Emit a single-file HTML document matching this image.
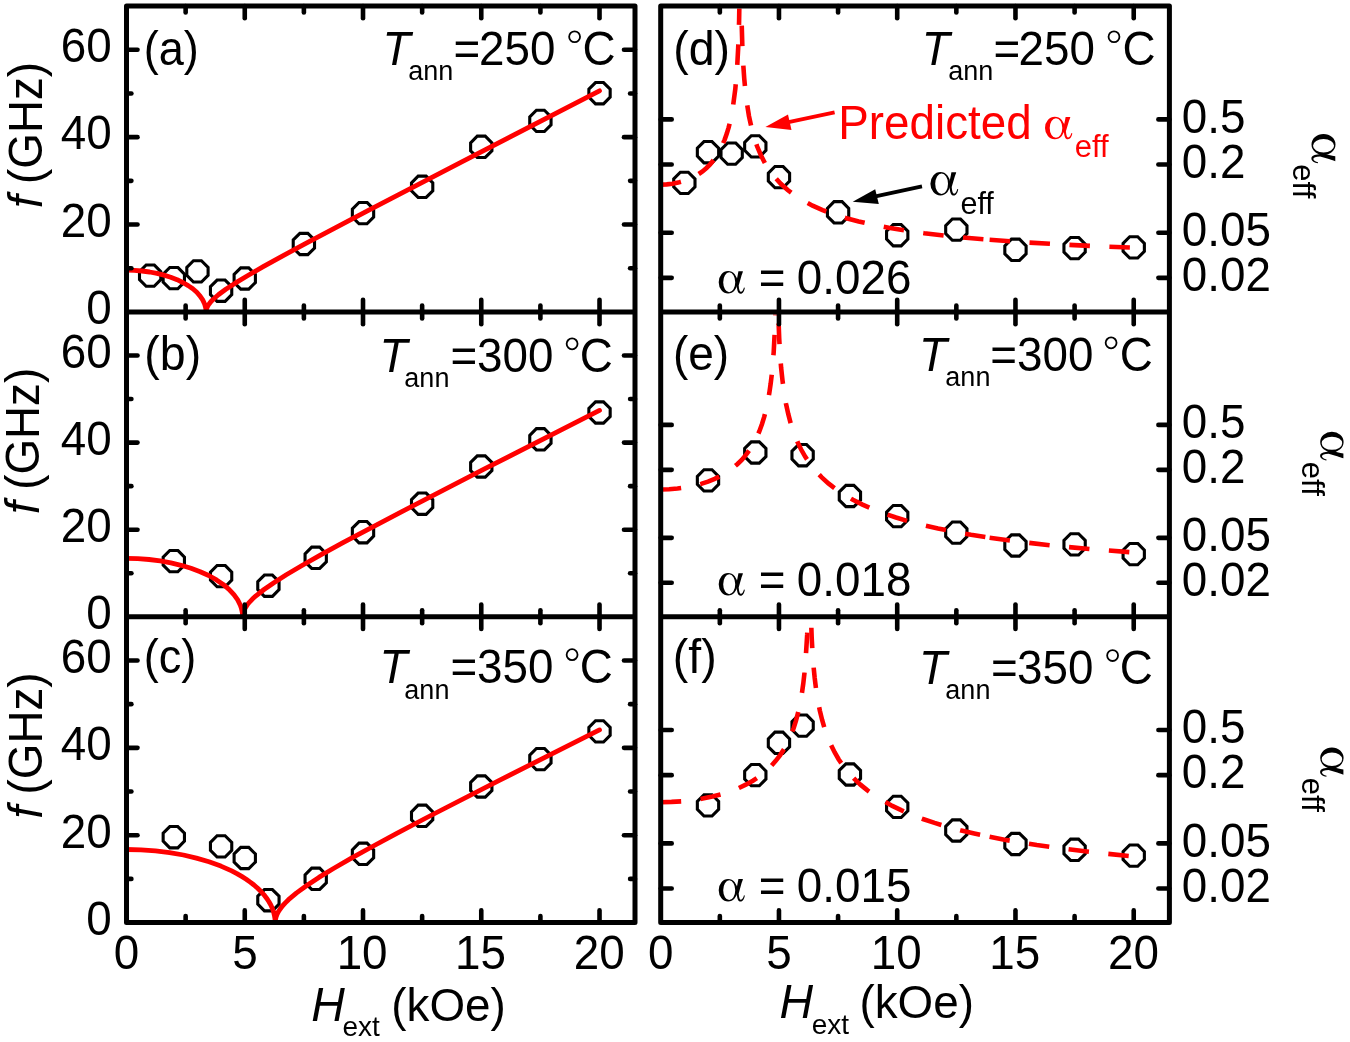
<!DOCTYPE html>
<html><head><meta charset="utf-8"><style>
html,body{margin:0;padding:0;background:#fff;}
svg{display:block;will-change:transform;}
</style></head><body>
<svg width="1350" height="1042" viewBox="0 0 1350 1042">
<rect width="1350" height="1042" fill="#fff"/>
<defs>
<g id="alp"><path fill-rule="evenodd" d="M0,11.85 A10.0,11.75 0 1,0 20.0,11.85 A10.0,11.75 0 1,0 0,11.85 Z M4.8,11.8 A6.4,10.3 0 1,0 17.6,11.8 A6.4,10.3 0 1,0 4.8,11.8 Z"/><path d="M21.0,0.3 L25.8,0.3 C25.6,1.8 24.6,3.5 23.8,6.5 L21.3,15.2 C21.6,19.5 22.4,21.8 23.7,21.8 C25.2,21.8 26.3,19.5 26.9,17.2 L27.8,17.4 C27.4,20.6 25.7,23.7 23.3,23.7 C20.6,23.7 19.7,20.5 19.3,16.3 L18.4,12.8 C19.4,8.5 20.4,4.0 21.0,0.3 Z"/></g>
<clipPath id="cl0"><rect x="126.5" y="6.0" width="508.5" height="306.0"/></clipPath>
<clipPath id="cr0"><rect x="660.7" y="8.5" width="508.70000000000005" height="303.5"/></clipPath>
<clipPath id="cl1"><rect x="126.5" y="312.0" width="508.5" height="304.75"/></clipPath>
<clipPath id="cr1"><rect x="660.7" y="314.5" width="508.70000000000005" height="302.25"/></clipPath>
<clipPath id="cl2"><rect x="126.5" y="616.75" width="508.5" height="305.85"/></clipPath>
<clipPath id="cr2"><rect x="660.7" y="619.25" width="508.70000000000005" height="303.35"/></clipPath>
</defs>
<polygon points="154.15,264.95 160.80,271.60 160.80,279.60 154.15,286.25 146.15,286.25 139.50,279.60 139.50,271.60 146.15,264.95" fill="none" stroke="#000" stroke-width="3.1"/>
<polygon points="177.80,267.45 184.45,274.10 184.45,282.10 177.80,288.75 169.80,288.75 163.15,282.10 163.15,274.10 169.80,267.45" fill="none" stroke="#000" stroke-width="3.1"/>
<polygon points="201.45,260.75 208.10,267.40 208.10,275.40 201.45,282.05 193.45,282.05 186.80,275.40 186.80,267.40 193.45,260.75" fill="none" stroke="#000" stroke-width="3.1"/>
<polygon points="225.10,280.05 231.75,286.70 231.75,294.70 225.10,301.35 217.10,301.35 210.45,294.70 210.45,286.70 217.10,280.05" fill="none" stroke="#000" stroke-width="3.1"/>
<polygon points="248.76,267.85 255.41,274.50 255.41,282.50 248.76,289.15 240.76,289.15 234.11,282.50 234.11,274.50 240.76,267.85" fill="none" stroke="#000" stroke-width="3.1"/>
<polygon points="307.88,233.35 314.53,240.00 314.53,248.00 307.88,254.65 299.88,254.65 293.23,248.00 293.23,240.00 299.88,233.35" fill="none" stroke="#000" stroke-width="3.1"/>
<polygon points="367.01,202.45 373.66,209.10 373.66,217.10 367.01,223.75 359.01,223.75 352.36,217.10 352.36,209.10 359.01,202.45" fill="none" stroke="#000" stroke-width="3.1"/>
<polygon points="426.14,176.15 432.79,182.80 432.79,190.80 426.14,197.45 418.14,197.45 411.49,190.80 411.49,182.80 418.14,176.15" fill="none" stroke="#000" stroke-width="3.1"/>
<polygon points="485.27,136.15 491.92,142.80 491.92,150.80 485.27,157.45 477.27,157.45 470.62,150.80 470.62,142.80 477.27,136.15" fill="none" stroke="#000" stroke-width="3.1"/>
<polygon points="544.40,110.25 551.05,116.90 551.05,124.90 544.40,131.55 536.40,131.55 529.75,124.90 529.75,116.90 536.40,110.25" fill="none" stroke="#000" stroke-width="3.1"/>
<polygon points="603.52,82.55 610.17,89.20 610.17,97.20 603.52,103.85 595.52,103.85 588.87,97.20 588.87,89.20 595.52,82.55" fill="none" stroke="#000" stroke-width="3.1"/>
<path d="M126.5,270.2 134.3,270.4 142.0,271.0 149.6,272.0 157.0,273.4 163.9,275.1 170.7,277.2 177.1,279.7 182.8,282.5 188.2,285.6 192.8,288.8 196.8,292.3 200.1,296.1 202.7,299.9 204.5,303.7 205.7,307.8 206.1,312.0 206.4,309.7 206.8,308.1 207.8,305.9 209.1,304.0 211.0,301.5 213.0,299.5 218.4,294.8 225.8,289.3 235.6,282.9 247.9,275.5 263.2,266.7 282.3,256.1 305.4,243.6 368.4,210.4 461.8,161.9 599.5,90.8" fill="none" stroke="#ff0000" stroke-width="4.8" stroke-linejoin="round" stroke-linecap="round" clip-path="url(#cl0)"/>
<polygon points="177.80,550.45 184.45,557.10 184.45,565.10 177.80,571.75 169.80,571.75 163.15,565.10 163.15,557.10 169.80,550.45" fill="none" stroke="#000" stroke-width="3.1"/>
<polygon points="225.10,565.45 231.75,572.10 231.75,580.10 225.10,586.75 217.10,586.75 210.45,580.10 210.45,572.10 217.10,565.45" fill="none" stroke="#000" stroke-width="3.1"/>
<polygon points="272.41,575.05 279.06,581.70 279.06,589.70 272.41,596.35 264.41,596.35 257.76,589.70 257.76,581.70 264.41,575.05" fill="none" stroke="#000" stroke-width="3.1"/>
<polygon points="319.71,547.15 326.36,553.80 326.36,561.80 319.71,568.45 311.71,568.45 305.06,561.80 305.06,553.80 311.71,547.15" fill="none" stroke="#000" stroke-width="3.1"/>
<polygon points="367.01,521.55 373.66,528.20 373.66,536.20 367.01,542.85 359.01,542.85 352.36,536.20 352.36,528.20 359.01,521.55" fill="none" stroke="#000" stroke-width="3.1"/>
<polygon points="426.14,493.05 432.79,499.70 432.79,507.70 426.14,514.35 418.14,514.35 411.49,507.70 411.49,499.70 418.14,493.05" fill="none" stroke="#000" stroke-width="3.1"/>
<polygon points="485.27,455.85 491.92,462.50 491.92,470.50 485.27,477.15 477.27,477.15 470.62,470.50 470.62,462.50 477.27,455.85" fill="none" stroke="#000" stroke-width="3.1"/>
<polygon points="544.40,428.65 551.05,435.30 551.05,443.30 544.40,449.95 536.40,449.95 529.75,443.30 529.75,435.30 536.40,428.65" fill="none" stroke="#000" stroke-width="3.1"/>
<polygon points="603.52,401.85 610.17,408.50 610.17,416.50 603.52,423.15 595.52,423.15 588.87,416.50 588.87,408.50 595.52,401.85" fill="none" stroke="#000" stroke-width="3.1"/>
<path d="M126.5,558.4 137.8,558.7 149.1,559.5 160.2,560.9 170.9,562.9 181.1,565.3 191.0,568.2 200.2,571.7 208.7,575.5 216.5,579.9 223.2,584.4 229.0,589.3 233.9,594.6 237.7,599.9 240.3,605.1 241.3,608.0 242.0,610.9 242.5,613.8 242.6,616.8 242.9,614.2 243.3,612.3 244.2,609.9 245.8,607.1 247.5,604.5 249.8,601.8 252.4,599.1 256.0,595.8 264.0,589.5 273.9,582.7 286.3,574.8 302.0,565.5 320.7,554.9 343.0,542.7 401.4,511.8 484.0,469.2 599.5,410.4" fill="none" stroke="#ff0000" stroke-width="4.8" stroke-linejoin="round" stroke-linecap="round" clip-path="url(#cl1)"/>
<polygon points="177.80,826.55 184.45,833.20 184.45,841.20 177.80,847.85 169.80,847.85 163.15,841.20 163.15,833.20 169.80,826.55" fill="none" stroke="#000" stroke-width="3.1"/>
<polygon points="225.10,835.75 231.75,842.40 231.75,850.40 225.10,857.05 217.10,857.05 210.45,850.40 210.45,842.40 217.10,835.75" fill="none" stroke="#000" stroke-width="3.1"/>
<polygon points="248.76,847.35 255.41,854.00 255.41,862.00 248.76,868.65 240.76,868.65 234.11,862.00 234.11,854.00 240.76,847.35" fill="none" stroke="#000" stroke-width="3.1"/>
<polygon points="272.41,889.55 279.06,896.20 279.06,904.20 272.41,910.85 264.41,910.85 257.76,904.20 257.76,896.20 264.41,889.55" fill="none" stroke="#000" stroke-width="3.1"/>
<polygon points="319.71,868.15 326.36,874.80 326.36,882.80 319.71,889.45 311.71,889.45 305.06,882.80 305.06,874.80 311.71,868.15" fill="none" stroke="#000" stroke-width="3.1"/>
<polygon points="367.01,843.15 373.66,849.80 373.66,857.80 367.01,864.45 359.01,864.45 352.36,857.80 352.36,849.80 359.01,843.15" fill="none" stroke="#000" stroke-width="3.1"/>
<polygon points="426.14,805.15 432.79,811.80 432.79,819.80 426.14,826.45 418.14,826.45 411.49,819.80 411.49,811.80 418.14,805.15" fill="none" stroke="#000" stroke-width="3.1"/>
<polygon points="485.27,775.85 491.92,782.50 491.92,790.50 485.27,797.15 477.27,797.15 470.62,790.50 470.62,782.50 477.27,775.85" fill="none" stroke="#000" stroke-width="3.1"/>
<polygon points="544.40,748.45 551.05,755.10 551.05,763.10 544.40,769.75 536.40,769.75 529.75,763.10 529.75,755.10 536.40,748.45" fill="none" stroke="#000" stroke-width="3.1"/>
<polygon points="603.52,720.75 610.17,727.40 610.17,735.40 603.52,742.05 595.52,742.05 588.87,735.40 588.87,727.40 595.52,720.75" fill="none" stroke="#000" stroke-width="3.1"/>
<path d="M126.5,849.5 141.0,849.8 155.5,850.9 169.6,852.6 183.4,855.0 196.4,858.1 209.0,861.8 220.9,866.1 231.7,870.9 236.9,873.6 241.7,876.4 246.2,879.2 250.2,882.1 254.0,885.0 257.7,888.2 261.0,891.5 264.0,894.8 266.6,898.2 268.8,901.5 270.7,904.8 272.4,908.5 273.5,911.7 274.4,915.3 275.0,918.9 275.1,922.6 275.4,919.9 276.0,917.2 277.0,914.4 278.4,911.7 280.0,909.2 282.4,906.0 285.3,902.9 288.5,899.7 296.6,892.9 306.8,885.5 318.9,877.4 333.5,868.5 351.4,858.2 372.5,846.5 396.8,833.4 426.0,818.0 499.8,780.1 599.5,729.9" fill="none" stroke="#ff0000" stroke-width="4.8" stroke-linejoin="round" stroke-linecap="round" clip-path="url(#cl2)"/>
<polygon points="688.35,172.25 695.00,178.90 695.00,186.90 688.35,193.55 680.35,193.55 673.70,186.90 673.70,178.90 680.35,172.25" fill="none" stroke="#000" stroke-width="3.1"/>
<polygon points="712.00,141.55 718.65,148.20 718.65,156.20 712.00,162.85 704.00,162.85 697.35,156.20 697.35,148.20 704.00,141.55" fill="none" stroke="#000" stroke-width="3.1"/>
<polygon points="735.65,142.95 742.30,149.60 742.30,157.60 735.65,164.25 727.65,164.25 721.00,157.60 721.00,149.60 727.65,142.95" fill="none" stroke="#000" stroke-width="3.1"/>
<polygon points="759.30,135.75 765.95,142.40 765.95,150.40 759.30,157.05 751.30,157.05 744.65,150.40 744.65,142.40 751.30,135.75" fill="none" stroke="#000" stroke-width="3.1"/>
<polygon points="782.96,166.45 789.61,173.10 789.61,181.10 782.96,187.75 774.96,187.75 768.31,181.10 768.31,173.10 774.96,166.45" fill="none" stroke="#000" stroke-width="3.1"/>
<polygon points="842.08,201.65 848.73,208.30 848.73,216.30 842.08,222.95 834.08,222.95 827.43,216.30 827.43,208.30 834.08,201.65" fill="none" stroke="#000" stroke-width="3.1"/>
<polygon points="901.21,224.55 907.86,231.20 907.86,239.20 901.21,245.85 893.21,245.85 886.56,239.20 886.56,231.20 893.21,224.55" fill="none" stroke="#000" stroke-width="3.1"/>
<polygon points="960.34,218.95 966.99,225.60 966.99,233.60 960.34,240.25 952.34,240.25 945.69,233.60 945.69,225.60 952.34,218.95" fill="none" stroke="#000" stroke-width="3.1"/>
<polygon points="1019.47,239.15 1026.12,245.80 1026.12,253.80 1019.47,260.45 1011.47,260.45 1004.82,253.80 1004.82,245.80 1011.47,239.15" fill="none" stroke="#000" stroke-width="3.1"/>
<polygon points="1078.60,237.45 1085.25,244.10 1085.25,252.10 1078.60,258.75 1070.60,258.75 1063.95,252.10 1063.95,244.10 1070.60,237.45" fill="none" stroke="#000" stroke-width="3.1"/>
<polygon points="1137.72,236.75 1144.37,243.40 1144.37,251.40 1137.72,258.05 1129.72,258.05 1123.07,251.40 1123.07,243.40 1129.72,236.75" fill="none" stroke="#000" stroke-width="3.1"/>
<path d="M660.7,184.6 666.7,184.4 672.4,183.7 678.2,182.6 683.6,181.1 688.8,179.3 693.5,177.0 698.1,174.4 702.5,171.4 706.5,168.0 710.1,164.4 713.4,160.3 716.6,155.8 719.6,150.7 722.2,145.5 724.6,139.8 726.8,133.6 728.6,127.6 730.2,121.3 731.7,114.3 733.0,106.4 735.3,89.1 737.0,69.6 738.2,47.6 739.1,21.2 739.7,-14.5 740.1,-62.3 740.3,-62.3" fill="none" stroke="#ff0000" stroke-width="4.6" stroke-dasharray="20.5 19.5" clip-path="url(#cr0)"/>
<path d="M989.6,239.8 965.9,237.8 944.1,235.5 924.2,233.2 905.5,230.6 888.6,227.8 873.1,224.8 858.7,221.5 845.6,218.0 833.8,214.3 822.6,210.1 812.6,205.7 803.3,200.7 795.2,195.6 787.7,190.0 780.8,183.8 774.6,177.0 769.6,170.5 764.9,163.0 760.9,155.2 757.1,146.3 754.0,137.0 751.4,127.2 749.0,116.2 747.1,104.4 745.5,92.0 744.2,78.1 743.1,62.4 742.3,44.8 741.2,6.7 740.5,-62.3 740.3,-62.3" fill="none" stroke="#ff0000" stroke-width="4.6" stroke-dasharray="20.5 19.5" clip-path="url(#cr0)" stroke-dashoffset="33.80"/>
<path d="M989.6,239.8 1020.6,242.1 1054.8,244.1 1092.3,246.0 1133.7,247.7" fill="none" stroke="#ff0000" stroke-width="4.6" stroke-dasharray="20.5 19.5" clip-path="url(#cr0)"/>
<polygon points="712.00,469.75 718.65,476.40 718.65,484.40 712.00,491.05 704.00,491.05 697.35,484.40 697.35,476.40 704.00,469.75" fill="none" stroke="#000" stroke-width="3.1"/>
<polygon points="759.30,441.85 765.95,448.50 765.95,456.50 759.30,463.15 751.30,463.15 744.65,456.50 744.65,448.50 751.30,441.85" fill="none" stroke="#000" stroke-width="3.1"/>
<polygon points="806.61,444.55 813.26,451.20 813.26,459.20 806.61,465.85 798.61,465.85 791.96,459.20 791.96,451.20 798.61,444.55" fill="none" stroke="#000" stroke-width="3.1"/>
<polygon points="853.91,485.35 860.56,492.00 860.56,500.00 853.91,506.65 845.91,506.65 839.26,500.00 839.26,492.00 845.91,485.35" fill="none" stroke="#000" stroke-width="3.1"/>
<polygon points="901.21,505.45 907.86,512.10 907.86,520.10 901.21,526.75 893.21,526.75 886.56,520.10 886.56,512.10 893.21,505.45" fill="none" stroke="#000" stroke-width="3.1"/>
<polygon points="960.34,521.95 966.99,528.60 966.99,536.60 960.34,543.25 952.34,543.25 945.69,536.60 945.69,528.60 952.34,521.95" fill="none" stroke="#000" stroke-width="3.1"/>
<polygon points="1019.47,534.85 1026.12,541.50 1026.12,549.50 1019.47,556.15 1011.47,556.15 1004.82,549.50 1004.82,541.50 1011.47,534.85" fill="none" stroke="#000" stroke-width="3.1"/>
<polygon points="1078.60,533.75 1085.25,540.40 1085.25,548.40 1078.60,555.05 1070.60,555.05 1063.95,548.40 1063.95,540.40 1070.60,533.75" fill="none" stroke="#000" stroke-width="3.1"/>
<polygon points="1137.72,543.45 1144.37,550.10 1144.37,558.10 1137.72,564.75 1129.72,564.75 1123.07,558.10 1123.07,550.10 1129.72,543.45" fill="none" stroke="#000" stroke-width="3.1"/>
<path d="M660.7,489.5 669.1,489.2 677.5,488.5 685.7,487.4 693.5,485.9 701.1,483.9 708.0,481.6 714.7,478.9 721.1,475.7 726.9,472.3 732.4,468.4 737.3,464.2 742.0,459.6 746.3,454.4 750.1,449.2 753.6,443.4 756.8,437.2 759.4,431.2 762.0,424.0 764.2,416.9 766.1,409.6 767.8,401.5 769.4,392.5 770.7,383.4 771.9,373.4 773.7,352.1 775.0,326.5 775.9,290.9 776.5,244.8 776.5,244.0 776.8,244.0" fill="none" stroke="#ff0000" stroke-width="4.6" stroke-dasharray="20.5 19.5" clip-path="url(#cr1)"/>
<path d="M989.6,537.7 971.0,534.8 954.0,531.7 938.0,528.5 923.1,525.1 909.3,521.5 896.0,517.5 883.7,513.4 872.6,509.1 862.5,504.6 852.9,499.8 843.9,494.5 835.9,489.2 828.4,483.4 821.5,477.1 815.1,470.2 809.8,463.5 805.3,456.8 801.0,449.3 797.3,441.6 793.8,433.0 790.9,424.1 788.3,414.2 786.0,403.7 784.0,392.0 782.5,380.5 781.1,367.6 780.1,354.0 779.2,338.4 778.0,306.1 777.5,278.6 777.2,244.1 776.8,244.0" fill="none" stroke="#ff0000" stroke-width="4.6" stroke-dasharray="20.5 19.5" clip-path="url(#cr1)" stroke-dashoffset="35.70"/>
<path d="M989.6,537.7 1020.6,541.9 1054.8,545.8 1092.3,549.3 1133.7,552.5" fill="none" stroke="#ff0000" stroke-width="4.6" stroke-dasharray="20.5 19.5" clip-path="url(#cr1)"/>
<polygon points="712.00,794.75 718.65,801.40 718.65,809.40 712.00,816.05 704.00,816.05 697.35,809.40 697.35,801.40 704.00,794.75" fill="none" stroke="#000" stroke-width="3.1"/>
<polygon points="759.30,764.45 765.95,771.10 765.95,779.10 759.30,785.75 751.30,785.75 744.65,779.10 744.65,771.10 751.30,764.45" fill="none" stroke="#000" stroke-width="3.1"/>
<polygon points="782.96,732.15 789.61,738.80 789.61,746.80 782.96,753.45 774.96,753.45 768.31,746.80 768.31,738.80 774.96,732.15" fill="none" stroke="#000" stroke-width="3.1"/>
<polygon points="806.61,714.95 813.26,721.60 813.26,729.60 806.61,736.25 798.61,736.25 791.96,729.60 791.96,721.60 798.61,714.95" fill="none" stroke="#000" stroke-width="3.1"/>
<polygon points="853.91,763.85 860.56,770.50 860.56,778.50 853.91,785.15 845.91,785.15 839.26,778.50 839.26,770.50 845.91,763.85" fill="none" stroke="#000" stroke-width="3.1"/>
<polygon points="901.21,796.25 907.86,802.90 907.86,810.90 901.21,817.55 893.21,817.55 886.56,810.90 886.56,802.90 893.21,796.25" fill="none" stroke="#000" stroke-width="3.1"/>
<polygon points="960.34,819.85 966.99,826.50 966.99,834.50 960.34,841.15 952.34,841.15 945.69,834.50 945.69,826.50 952.34,819.85" fill="none" stroke="#000" stroke-width="3.1"/>
<polygon points="1019.47,833.35 1026.12,840.00 1026.12,848.00 1019.47,854.65 1011.47,854.65 1004.82,848.00 1004.82,840.00 1011.47,833.35" fill="none" stroke="#000" stroke-width="3.1"/>
<polygon points="1078.60,839.15 1085.25,845.80 1085.25,853.80 1078.60,860.45 1070.60,860.45 1063.95,853.80 1063.95,845.80 1070.60,839.15" fill="none" stroke="#000" stroke-width="3.1"/>
<polygon points="1137.72,844.95 1144.37,851.60 1144.37,859.60 1137.72,866.25 1129.72,866.25 1123.07,859.60 1123.07,851.60 1129.72,844.95" fill="none" stroke="#000" stroke-width="3.1"/>
<path d="M660.7,802.2 671.5,801.9 682.3,801.3 692.7,800.1 702.7,798.6 712.4,796.6 721.6,794.2 730.2,791.4 738.4,788.2 745.8,784.7 752.9,780.7 759.2,776.5 765.1,771.7 770.7,766.5 775.5,761.1 780.0,755.3 784.1,748.9 787.4,742.8 790.8,735.5 793.6,728.2 796.0,720.6 798.2,712.2 800.1,703.7 801.8,693.8 803.3,683.4 804.5,672.7 805.5,661.3 807.2,634.4 808.3,598.0 809.0,548.5 809.3,548.5" fill="none" stroke="#ff0000" stroke-width="4.6" stroke-dasharray="20.5 19.5" clip-path="url(#cr2)"/>
<path d="M989.6,836.8 974.3,833.5 960.3,830.2 947.2,826.7 934.6,822.9 922.9,819.0 912.1,814.9 901.7,810.4 892.3,805.9 883.3,800.9 875.1,795.9 867.5,790.4 860.7,784.9 854.4,779.0 848.6,772.7 843.1,765.8 838.6,759.2 834.6,752.2 831.0,745.0 827.6,737.0 824.7,728.7 822.2,720.2 819.8,710.5 817.8,700.1 816.1,689.4 814.7,678.1 813.5,666.0 812.5,652.4 811.7,637.8 810.4,600.3 809.7,549.0 809.7,548.5 809.3,548.5" fill="none" stroke="#ff0000" stroke-width="4.6" stroke-dasharray="20.5 19.5" clip-path="url(#cr2)" stroke-dashoffset="30.30"/>
<path d="M989.6,836.8 1004.4,839.7 1020.2,842.4 1036.8,845.1 1054.1,847.5 1091.9,852.2 1133.7,856.5" fill="none" stroke="#ff0000" stroke-width="4.6" stroke-dasharray="20.5 19.5" clip-path="url(#cr2)"/>
<g stroke="#000" stroke-width="4.6" stroke-linecap="round"><line x1="185.63" y1="312.00" x2="185.63" y2="305.50"/>
<line x1="185.63" y1="6.00" x2="185.63" y2="12.50"/>
<line x1="244.76" y1="312.00" x2="244.76" y2="299.80"/>
<line x1="244.76" y1="6.00" x2="244.76" y2="18.20"/>
<line x1="303.88" y1="312.00" x2="303.88" y2="305.50"/>
<line x1="303.88" y1="6.00" x2="303.88" y2="12.50"/>
<line x1="363.01" y1="312.00" x2="363.01" y2="299.80"/>
<line x1="363.01" y1="6.00" x2="363.01" y2="18.20"/>
<line x1="422.14" y1="312.00" x2="422.14" y2="305.50"/>
<line x1="422.14" y1="6.00" x2="422.14" y2="12.50"/>
<line x1="481.27" y1="312.00" x2="481.27" y2="299.80"/>
<line x1="481.27" y1="6.00" x2="481.27" y2="18.20"/>
<line x1="540.40" y1="312.00" x2="540.40" y2="305.50"/>
<line x1="540.40" y1="6.00" x2="540.40" y2="12.50"/>
<line x1="599.52" y1="312.00" x2="599.52" y2="299.80"/>
<line x1="599.52" y1="6.00" x2="599.52" y2="18.20"/>
<line x1="126.50" y1="268.29" x2="131.40" y2="268.29"/>
<line x1="635.00" y1="268.29" x2="630.10" y2="268.29"/>
<line x1="126.50" y1="224.57" x2="137.50" y2="224.57"/>
<line x1="635.00" y1="224.57" x2="624.00" y2="224.57"/>
<line x1="126.50" y1="180.86" x2="131.40" y2="180.86"/>
<line x1="635.00" y1="180.86" x2="630.10" y2="180.86"/>
<line x1="126.50" y1="137.14" x2="137.50" y2="137.14"/>
<line x1="635.00" y1="137.14" x2="624.00" y2="137.14"/>
<line x1="126.50" y1="93.43" x2="131.40" y2="93.43"/>
<line x1="635.00" y1="93.43" x2="630.10" y2="93.43"/>
<line x1="126.50" y1="49.71" x2="137.50" y2="49.71"/>
<line x1="635.00" y1="49.71" x2="624.00" y2="49.71"/>
<line x1="185.63" y1="616.75" x2="185.63" y2="610.25"/>
<line x1="185.63" y1="312.00" x2="185.63" y2="318.50"/>
<line x1="244.76" y1="616.75" x2="244.76" y2="604.55"/>
<line x1="244.76" y1="312.00" x2="244.76" y2="324.20"/>
<line x1="303.88" y1="616.75" x2="303.88" y2="610.25"/>
<line x1="303.88" y1="312.00" x2="303.88" y2="318.50"/>
<line x1="363.01" y1="616.75" x2="363.01" y2="604.55"/>
<line x1="363.01" y1="312.00" x2="363.01" y2="324.20"/>
<line x1="422.14" y1="616.75" x2="422.14" y2="610.25"/>
<line x1="422.14" y1="312.00" x2="422.14" y2="318.50"/>
<line x1="481.27" y1="616.75" x2="481.27" y2="604.55"/>
<line x1="481.27" y1="312.00" x2="481.27" y2="324.20"/>
<line x1="540.40" y1="616.75" x2="540.40" y2="610.25"/>
<line x1="540.40" y1="312.00" x2="540.40" y2="318.50"/>
<line x1="599.52" y1="616.75" x2="599.52" y2="604.55"/>
<line x1="599.52" y1="312.00" x2="599.52" y2="324.20"/>
<line x1="126.50" y1="573.21" x2="131.40" y2="573.21"/>
<line x1="635.00" y1="573.21" x2="630.10" y2="573.21"/>
<line x1="126.50" y1="529.68" x2="137.50" y2="529.68"/>
<line x1="635.00" y1="529.68" x2="624.00" y2="529.68"/>
<line x1="126.50" y1="486.14" x2="131.40" y2="486.14"/>
<line x1="635.00" y1="486.14" x2="630.10" y2="486.14"/>
<line x1="126.50" y1="442.61" x2="137.50" y2="442.61"/>
<line x1="635.00" y1="442.61" x2="624.00" y2="442.61"/>
<line x1="126.50" y1="399.07" x2="131.40" y2="399.07"/>
<line x1="635.00" y1="399.07" x2="630.10" y2="399.07"/>
<line x1="126.50" y1="355.54" x2="137.50" y2="355.54"/>
<line x1="635.00" y1="355.54" x2="624.00" y2="355.54"/>
<line x1="185.63" y1="922.60" x2="185.63" y2="916.10"/>
<line x1="185.63" y1="616.75" x2="185.63" y2="623.25"/>
<line x1="244.76" y1="922.60" x2="244.76" y2="910.40"/>
<line x1="244.76" y1="616.75" x2="244.76" y2="628.95"/>
<line x1="303.88" y1="922.60" x2="303.88" y2="916.10"/>
<line x1="303.88" y1="616.75" x2="303.88" y2="623.25"/>
<line x1="363.01" y1="922.60" x2="363.01" y2="910.40"/>
<line x1="363.01" y1="616.75" x2="363.01" y2="628.95"/>
<line x1="422.14" y1="922.60" x2="422.14" y2="916.10"/>
<line x1="422.14" y1="616.75" x2="422.14" y2="623.25"/>
<line x1="481.27" y1="922.60" x2="481.27" y2="910.40"/>
<line x1="481.27" y1="616.75" x2="481.27" y2="628.95"/>
<line x1="540.40" y1="922.60" x2="540.40" y2="916.10"/>
<line x1="540.40" y1="616.75" x2="540.40" y2="623.25"/>
<line x1="599.52" y1="922.60" x2="599.52" y2="910.40"/>
<line x1="599.52" y1="616.75" x2="599.52" y2="628.95"/>
<line x1="126.50" y1="878.91" x2="131.40" y2="878.91"/>
<line x1="635.00" y1="878.91" x2="630.10" y2="878.91"/>
<line x1="126.50" y1="835.21" x2="137.50" y2="835.21"/>
<line x1="635.00" y1="835.21" x2="624.00" y2="835.21"/>
<line x1="126.50" y1="791.52" x2="131.40" y2="791.52"/>
<line x1="635.00" y1="791.52" x2="630.10" y2="791.52"/>
<line x1="126.50" y1="747.83" x2="137.50" y2="747.83"/>
<line x1="635.00" y1="747.83" x2="624.00" y2="747.83"/>
<line x1="126.50" y1="704.14" x2="131.40" y2="704.14"/>
<line x1="635.00" y1="704.14" x2="630.10" y2="704.14"/>
<line x1="126.50" y1="660.44" x2="137.50" y2="660.44"/>
<line x1="635.00" y1="660.44" x2="624.00" y2="660.44"/>
<line x1="719.83" y1="312.00" x2="719.83" y2="305.50"/>
<line x1="719.83" y1="6.00" x2="719.83" y2="12.50"/>
<line x1="778.96" y1="312.00" x2="778.96" y2="299.80"/>
<line x1="778.96" y1="6.00" x2="778.96" y2="18.20"/>
<line x1="838.08" y1="312.00" x2="838.08" y2="305.50"/>
<line x1="838.08" y1="6.00" x2="838.08" y2="12.50"/>
<line x1="897.21" y1="312.00" x2="897.21" y2="299.80"/>
<line x1="897.21" y1="6.00" x2="897.21" y2="18.20"/>
<line x1="956.34" y1="312.00" x2="956.34" y2="305.50"/>
<line x1="956.34" y1="6.00" x2="956.34" y2="12.50"/>
<line x1="1015.47" y1="312.00" x2="1015.47" y2="299.80"/>
<line x1="1015.47" y1="6.00" x2="1015.47" y2="18.20"/>
<line x1="1074.60" y1="312.00" x2="1074.60" y2="305.50"/>
<line x1="1074.60" y1="6.00" x2="1074.60" y2="12.50"/>
<line x1="1133.72" y1="312.00" x2="1133.72" y2="299.80"/>
<line x1="1133.72" y1="6.00" x2="1133.72" y2="18.20"/>
<line x1="660.70" y1="277.87" x2="671.70" y2="277.87"/>
<line x1="1169.40" y1="277.87" x2="1158.40" y2="277.87"/>
<line x1="660.70" y1="232.75" x2="671.70" y2="232.75"/>
<line x1="1169.40" y1="232.75" x2="1158.40" y2="232.75"/>
<line x1="660.70" y1="164.49" x2="671.70" y2="164.49"/>
<line x1="1169.40" y1="164.49" x2="1158.40" y2="164.49"/>
<line x1="660.70" y1="119.38" x2="671.70" y2="119.38"/>
<line x1="1169.40" y1="119.38" x2="1158.40" y2="119.38"/>
<line x1="719.83" y1="616.75" x2="719.83" y2="610.25"/>
<line x1="719.83" y1="312.00" x2="719.83" y2="318.50"/>
<line x1="778.96" y1="616.75" x2="778.96" y2="604.55"/>
<line x1="778.96" y1="312.00" x2="778.96" y2="324.20"/>
<line x1="838.08" y1="616.75" x2="838.08" y2="610.25"/>
<line x1="838.08" y1="312.00" x2="838.08" y2="318.50"/>
<line x1="897.21" y1="616.75" x2="897.21" y2="604.55"/>
<line x1="897.21" y1="312.00" x2="897.21" y2="324.20"/>
<line x1="956.34" y1="616.75" x2="956.34" y2="610.25"/>
<line x1="956.34" y1="312.00" x2="956.34" y2="318.50"/>
<line x1="1015.47" y1="616.75" x2="1015.47" y2="604.55"/>
<line x1="1015.47" y1="312.00" x2="1015.47" y2="324.20"/>
<line x1="1074.60" y1="616.75" x2="1074.60" y2="610.25"/>
<line x1="1074.60" y1="312.00" x2="1074.60" y2="318.50"/>
<line x1="1133.72" y1="616.75" x2="1133.72" y2="604.55"/>
<line x1="1133.72" y1="312.00" x2="1133.72" y2="324.20"/>
<line x1="660.70" y1="582.76" x2="671.70" y2="582.76"/>
<line x1="1169.40" y1="582.76" x2="1158.40" y2="582.76"/>
<line x1="660.70" y1="537.83" x2="671.70" y2="537.83"/>
<line x1="1169.40" y1="537.83" x2="1158.40" y2="537.83"/>
<line x1="660.70" y1="469.85" x2="671.70" y2="469.85"/>
<line x1="1169.40" y1="469.85" x2="1158.40" y2="469.85"/>
<line x1="660.70" y1="424.91" x2="671.70" y2="424.91"/>
<line x1="1169.40" y1="424.91" x2="1158.40" y2="424.91"/>
<line x1="719.83" y1="922.60" x2="719.83" y2="916.10"/>
<line x1="719.83" y1="616.75" x2="719.83" y2="623.25"/>
<line x1="778.96" y1="922.60" x2="778.96" y2="910.40"/>
<line x1="778.96" y1="616.75" x2="778.96" y2="628.95"/>
<line x1="838.08" y1="922.60" x2="838.08" y2="916.10"/>
<line x1="838.08" y1="616.75" x2="838.08" y2="623.25"/>
<line x1="897.21" y1="922.60" x2="897.21" y2="910.40"/>
<line x1="897.21" y1="616.75" x2="897.21" y2="628.95"/>
<line x1="956.34" y1="922.60" x2="956.34" y2="916.10"/>
<line x1="956.34" y1="616.75" x2="956.34" y2="623.25"/>
<line x1="1015.47" y1="922.60" x2="1015.47" y2="910.40"/>
<line x1="1015.47" y1="616.75" x2="1015.47" y2="628.95"/>
<line x1="1074.60" y1="922.60" x2="1074.60" y2="916.10"/>
<line x1="1074.60" y1="616.75" x2="1074.60" y2="623.25"/>
<line x1="1133.72" y1="922.60" x2="1133.72" y2="910.40"/>
<line x1="1133.72" y1="616.75" x2="1133.72" y2="628.95"/>
<line x1="660.70" y1="888.49" x2="671.70" y2="888.49"/>
<line x1="1169.40" y1="888.49" x2="1158.40" y2="888.49"/>
<line x1="660.70" y1="843.39" x2="671.70" y2="843.39"/>
<line x1="1169.40" y1="843.39" x2="1158.40" y2="843.39"/>
<line x1="660.70" y1="775.17" x2="671.70" y2="775.17"/>
<line x1="1169.40" y1="775.17" x2="1158.40" y2="775.17"/>
<line x1="660.70" y1="730.07" x2="671.70" y2="730.07"/>
<line x1="1169.40" y1="730.07" x2="1158.40" y2="730.07"/></g>
<rect x="126.5" y="6.0" width="508.5" height="916.6" fill="none" stroke="#000" stroke-width="5.0" stroke-linejoin="round"/>
<line x1="126.5" y1="312.0" x2="635.0" y2="312.0" stroke="#000" stroke-width="5.0"/>
<line x1="126.5" y1="616.75" x2="635.0" y2="616.75" stroke="#000" stroke-width="5.0"/>
<rect x="660.7" y="6.0" width="508.70000000000005" height="916.6" fill="none" stroke="#000" stroke-width="5.0" stroke-linejoin="round"/>
<line x1="660.7" y1="312.0" x2="1169.4" y2="312.0" stroke="#000" stroke-width="5.0"/>
<line x1="660.7" y1="616.75" x2="1169.4" y2="616.75" stroke="#000" stroke-width="5.0"/>
<text transform="translate(86.25,324.32) scale(1.0,1.03)" style="font-family:'Liberation Sans', sans-serif;font-size:45.8px;" fill="#000">0</text>
<text transform="translate(60.75,236.89) scale(1.0,1.03)" style="font-family:'Liberation Sans', sans-serif;font-size:45.8px;" fill="#000">20</text>
<text transform="translate(60.75,149.47) scale(1.0,1.03)" style="font-family:'Liberation Sans', sans-serif;font-size:45.8px;" fill="#000">40</text>
<text transform="translate(60.75,62.04) scale(1.0,1.03)" style="font-family:'Liberation Sans', sans-serif;font-size:45.8px;" fill="#000">60</text>
<text transform="translate(1181.85,132.60) scale(1.0,1.03)" style="font-family:'Liberation Sans', sans-serif;font-size:45.8px;" fill="#000">0.5</text>
<text transform="translate(1181.85,177.72) scale(1.0,1.03)" style="font-family:'Liberation Sans', sans-serif;font-size:45.8px;" fill="#000">0.2</text>
<text transform="translate(1181.85,245.98) scale(1.0,1.03)" style="font-family:'Liberation Sans', sans-serif;font-size:45.8px;" fill="#000">0.05</text>
<text transform="translate(1181.85,291.09) scale(1.0,1.03)" style="font-family:'Liberation Sans', sans-serif;font-size:45.8px;" fill="#000">0.02</text>
<text transform="translate(86.25,629.07) scale(1.0,1.03)" style="font-family:'Liberation Sans', sans-serif;font-size:45.8px;" fill="#000">0</text>
<text transform="translate(60.75,542.00) scale(1.0,1.03)" style="font-family:'Liberation Sans', sans-serif;font-size:45.8px;" fill="#000">20</text>
<text transform="translate(60.75,454.93) scale(1.0,1.03)" style="font-family:'Liberation Sans', sans-serif;font-size:45.8px;" fill="#000">40</text>
<text transform="translate(60.75,367.86) scale(1.0,1.03)" style="font-family:'Liberation Sans', sans-serif;font-size:45.8px;" fill="#000">60</text>
<text transform="translate(1181.85,438.14) scale(1.0,1.03)" style="font-family:'Liberation Sans', sans-serif;font-size:45.8px;" fill="#000">0.5</text>
<text transform="translate(1181.85,483.07) scale(1.0,1.03)" style="font-family:'Liberation Sans', sans-serif;font-size:45.8px;" fill="#000">0.2</text>
<text transform="translate(1181.85,551.05) scale(1.0,1.03)" style="font-family:'Liberation Sans', sans-serif;font-size:45.8px;" fill="#000">0.05</text>
<text transform="translate(1181.85,595.98) scale(1.0,1.03)" style="font-family:'Liberation Sans', sans-serif;font-size:45.8px;" fill="#000">0.02</text>
<text transform="translate(86.25,934.92) scale(1.0,1.03)" style="font-family:'Liberation Sans', sans-serif;font-size:45.8px;" fill="#000">0</text>
<text transform="translate(60.75,847.54) scale(1.0,1.03)" style="font-family:'Liberation Sans', sans-serif;font-size:45.8px;" fill="#000">20</text>
<text transform="translate(60.75,760.15) scale(1.0,1.03)" style="font-family:'Liberation Sans', sans-serif;font-size:45.8px;" fill="#000">40</text>
<text transform="translate(60.75,672.77) scale(1.0,1.03)" style="font-family:'Liberation Sans', sans-serif;font-size:45.8px;" fill="#000">60</text>
<text transform="translate(1181.85,743.29) scale(1.0,1.03)" style="font-family:'Liberation Sans', sans-serif;font-size:45.8px;" fill="#000">0.5</text>
<text transform="translate(1181.85,788.39) scale(1.0,1.03)" style="font-family:'Liberation Sans', sans-serif;font-size:45.8px;" fill="#000">0.2</text>
<text transform="translate(1181.85,856.61) scale(1.0,1.03)" style="font-family:'Liberation Sans', sans-serif;font-size:45.8px;" fill="#000">0.05</text>
<text transform="translate(1181.85,901.71) scale(1.0,1.03)" style="font-family:'Liberation Sans', sans-serif;font-size:45.8px;" fill="#000">0.02</text>
<text transform="translate(113.75,969.42) scale(1.0,1.03)" style="font-family:'Liberation Sans', sans-serif;font-size:45.8px;" fill="#000">0</text>
<text transform="translate(232.13,969.17) scale(1.0,1.03)" style="font-family:'Liberation Sans', sans-serif;font-size:45.8px;" fill="#000">5</text>
<text transform="translate(336.64,969.42) scale(1.0,1.03)" style="font-family:'Liberation Sans', sans-serif;font-size:45.8px;" fill="#000">10</text>
<text transform="translate(455.02,969.17) scale(1.0,1.03)" style="font-family:'Liberation Sans', sans-serif;font-size:45.8px;" fill="#000">15</text>
<text transform="translate(573.77,969.42) scale(1.0,1.03)" style="font-family:'Liberation Sans', sans-serif;font-size:45.8px;" fill="#000">20</text>
<text transform="translate(647.95,969.42) scale(1.0,1.03)" style="font-family:'Liberation Sans', sans-serif;font-size:45.8px;" fill="#000">0</text>
<text transform="translate(766.33,969.17) scale(1.0,1.03)" style="font-family:'Liberation Sans', sans-serif;font-size:45.8px;" fill="#000">5</text>
<text transform="translate(870.84,969.42) scale(1.0,1.03)" style="font-family:'Liberation Sans', sans-serif;font-size:45.8px;" fill="#000">10</text>
<text transform="translate(989.22,969.17) scale(1.0,1.03)" style="font-family:'Liberation Sans', sans-serif;font-size:45.8px;" fill="#000">15</text>
<text transform="translate(1107.97,969.42) scale(1.0,1.03)" style="font-family:'Liberation Sans', sans-serif;font-size:45.8px;" fill="#000">20</text>
<text transform="translate(143.63,64.84) scale(0.97,1.02)" style="font-family:'Liberation Sans', sans-serif;font-size:46.5px;" fill="#000">(a)</text>
<text transform="translate(144.35,369.84) scale(1.0,1.02)" style="font-family:'Liberation Sans', sans-serif;font-size:46.5px;" fill="#000">(b)</text>
<text transform="translate(143.63,673.19) scale(0.97,1.02)" style="font-family:'Liberation Sans', sans-serif;font-size:46.5px;" fill="#000">(c)</text>
<text transform="translate(673.15,64.84) scale(1.0,1.02)" style="font-family:'Liberation Sans', sans-serif;font-size:46.5px;" fill="#000">(d)</text>
<text transform="translate(672.88,369.64) scale(0.99,1.02)" style="font-family:'Liberation Sans', sans-serif;font-size:46.5px;" fill="#000">(e)</text>
<text transform="translate(672.85,673.19) scale(1.0,1.02)" style="font-family:'Liberation Sans', sans-serif;font-size:46.5px;" fill="#000">(f)</text>
<text transform="translate(382.40,64.90) scale(1.0,1.04)" style="font-family:'Liberation Sans', sans-serif;font-size:45.8px;font-style:italic;" fill="#000">T</text>
<text x="408.25" y="80.30" style="font-family:'Liberation Sans', sans-serif;font-size:27px;" fill="#000">ann</text>
<text transform="translate(453.45,64.90) scale(1.0,1.035)" style="font-family:'Liberation Sans', sans-serif;font-size:45.8px;" fill="#000">=</text>
<text transform="translate(479.05,64.90) scale(1.0,1.035)" style="font-family:'Liberation Sans', sans-serif;font-size:45.8px;" fill="#000">250</text>
<circle cx="574.60" cy="36.75" r="5.45" fill="none" stroke="#000" stroke-width="1.8"/>
<text transform="translate(582.55,64.90) scale(1.0,1.035)" style="font-family:'Liberation Sans', sans-serif;font-size:45.8px;" fill="#000">C</text>
<text transform="translate(379.50,372.00) scale(1.0,1.04)" style="font-family:'Liberation Sans', sans-serif;font-size:45.8px;font-style:italic;" fill="#000">T</text>
<text x="404.35" y="387.40" style="font-family:'Liberation Sans', sans-serif;font-size:27px;" fill="#000">ann</text>
<text transform="translate(450.55,372.00) scale(1.0,1.035)" style="font-family:'Liberation Sans', sans-serif;font-size:45.8px;" fill="#000">=</text>
<text transform="translate(477.05,372.00) scale(1.0,1.035)" style="font-family:'Liberation Sans', sans-serif;font-size:45.8px;" fill="#000">300</text>
<circle cx="572.10" cy="343.85" r="5.45" fill="none" stroke="#000" stroke-width="1.8"/>
<text transform="translate(579.65,372.00) scale(1.0,1.035)" style="font-family:'Liberation Sans', sans-serif;font-size:45.8px;" fill="#000">C</text>
<text transform="translate(379.50,682.80) scale(1.0,1.04)" style="font-family:'Liberation Sans', sans-serif;font-size:45.8px;font-style:italic;" fill="#000">T</text>
<text x="404.35" y="698.60" style="font-family:'Liberation Sans', sans-serif;font-size:27px;" fill="#000">ann</text>
<text transform="translate(450.55,682.80) scale(1.0,1.035)" style="font-family:'Liberation Sans', sans-serif;font-size:45.8px;" fill="#000">=</text>
<text transform="translate(477.05,682.80) scale(1.0,1.035)" style="font-family:'Liberation Sans', sans-serif;font-size:45.8px;" fill="#000">350</text>
<circle cx="572.10" cy="654.65" r="5.45" fill="none" stroke="#000" stroke-width="1.8"/>
<text transform="translate(579.65,682.80) scale(1.0,1.035)" style="font-family:'Liberation Sans', sans-serif;font-size:45.8px;" fill="#000">C</text>
<text transform="translate(921.80,64.90) scale(1.0,1.04)" style="font-family:'Liberation Sans', sans-serif;font-size:45.8px;font-style:italic;" fill="#000">T</text>
<text x="948.25" y="80.30" style="font-family:'Liberation Sans', sans-serif;font-size:27px;" fill="#000">ann</text>
<text transform="translate(993.45,64.90) scale(1.0,1.035)" style="font-family:'Liberation Sans', sans-serif;font-size:45.8px;" fill="#000">=</text>
<text transform="translate(1018.45,64.90) scale(1.0,1.035)" style="font-family:'Liberation Sans', sans-serif;font-size:45.8px;" fill="#000">250</text>
<circle cx="1114.00" cy="36.75" r="5.45" fill="none" stroke="#000" stroke-width="1.8"/>
<text transform="translate(1122.55,64.90) scale(1.0,1.035)" style="font-family:'Liberation Sans', sans-serif;font-size:45.8px;" fill="#000">C</text>
<text transform="translate(919.10,371.00) scale(1.0,1.04)" style="font-family:'Liberation Sans', sans-serif;font-size:45.8px;font-style:italic;" fill="#000">T</text>
<text x="945.35" y="386.40" style="font-family:'Liberation Sans', sans-serif;font-size:27px;" fill="#000">ann</text>
<text transform="translate(990.15,371.00) scale(1.0,1.035)" style="font-family:'Liberation Sans', sans-serif;font-size:45.8px;" fill="#000">=</text>
<text transform="translate(1017.05,371.00) scale(1.0,1.035)" style="font-family:'Liberation Sans', sans-serif;font-size:45.8px;" fill="#000">300</text>
<circle cx="1111.10" cy="342.85" r="5.45" fill="none" stroke="#000" stroke-width="1.8"/>
<text transform="translate(1119.65,371.00) scale(1.0,1.035)" style="font-family:'Liberation Sans', sans-serif;font-size:45.8px;" fill="#000">C</text>
<text transform="translate(919.10,683.70) scale(1.0,1.04)" style="font-family:'Liberation Sans', sans-serif;font-size:45.8px;font-style:italic;" fill="#000">T</text>
<text x="945.35" y="699.20" style="font-family:'Liberation Sans', sans-serif;font-size:27px;" fill="#000">ann</text>
<text transform="translate(990.95,683.70) scale(1.0,1.035)" style="font-family:'Liberation Sans', sans-serif;font-size:45.8px;" fill="#000">=</text>
<text transform="translate(1017.05,683.70) scale(1.0,1.035)" style="font-family:'Liberation Sans', sans-serif;font-size:45.8px;" fill="#000">350</text>
<circle cx="1112.60" cy="655.55" r="5.45" fill="none" stroke="#000" stroke-width="1.8"/>
<text transform="translate(1119.65,683.70) scale(1.0,1.035)" style="font-family:'Liberation Sans', sans-serif;font-size:45.8px;" fill="#000">C</text>
<use href="#alp" fill="#000" transform="translate(718.70,270.90) scale(0.9388,0.9620)"/>
<text transform="translate(758.85,293.70) scale(1.0,1.035)" style="font-family:'Liberation Sans', sans-serif;font-size:45.8px;" fill="#000">=</text>
<text transform="translate(796.85,293.70) scale(1.0,1.035)" style="font-family:'Liberation Sans', sans-serif;font-size:45.8px;" fill="#000">0.026</text>
<use href="#alp" fill="#000" transform="translate(718.70,572.90) scale(0.9388,0.9620)"/>
<text transform="translate(758.85,595.70) scale(1.0,1.035)" style="font-family:'Liberation Sans', sans-serif;font-size:45.8px;" fill="#000">=</text>
<text transform="translate(796.85,595.70) scale(1.0,1.035)" style="font-family:'Liberation Sans', sans-serif;font-size:45.8px;" fill="#000">0.018</text>
<use href="#alp" fill="#000" transform="translate(718.70,878.80) scale(0.9388,0.9620)"/>
<text transform="translate(758.85,901.60) scale(1.0,1.035)" style="font-family:'Liberation Sans', sans-serif;font-size:45.8px;" fill="#000">=</text>
<text transform="translate(796.85,901.60) scale(1.0,1.035)" style="font-family:'Liberation Sans', sans-serif;font-size:45.8px;" fill="#000">0.015</text>
<text transform="translate(311.30,1021.20) scale(1.0,1.04)" style="font-family:'Liberation Sans', sans-serif;font-size:46.5px;font-style:italic;" fill="#000">H</text>
<text x="342.45" y="1036.10" style="font-family:'Liberation Sans', sans-serif;font-size:28px;" fill="#000">ext</text>
<text x="391.25" y="1021.20" style="font-family:'Liberation Sans', sans-serif;font-size:45.8px;" fill="#000">(kOe)</text>
<text transform="translate(779.50,1018.40) scale(1.0,1.04)" style="font-family:'Liberation Sans', sans-serif;font-size:46.5px;font-style:italic;" fill="#000">H</text>
<text x="811.75" y="1033.60" style="font-family:'Liberation Sans', sans-serif;font-size:28px;" fill="#000">ext</text>
<text x="859.45" y="1018.40" style="font-family:'Liberation Sans', sans-serif;font-size:45.8px;" fill="#000">(kOe)</text>
<g transform="translate(41.80,208.00) rotate(-90)"><text x="0" y="0" transform="scale(1,1.035)" style="font-family:'Liberation Sans', sans-serif;font-size:45.8px;font-style:italic">f</text><text x="24.05" y="0" transform="scale(1,1.035)" style="font-family:'Liberation Sans', sans-serif;font-size:45.8px">(GHz)</text></g>
<g transform="translate(38.60,513.90) rotate(-90)"><text x="0" y="0" transform="scale(1,1.035)" style="font-family:'Liberation Sans', sans-serif;font-size:45.8px;font-style:italic">f</text><text x="24.05" y="0" transform="scale(1,1.035)" style="font-family:'Liberation Sans', sans-serif;font-size:45.8px">(GHz)</text></g>
<g transform="translate(41.50,818.50) rotate(-90)"><text x="0" y="0" transform="scale(1,1.035)" style="font-family:'Liberation Sans', sans-serif;font-size:45.8px;font-style:italic">f</text><text x="24.05" y="0" transform="scale(1,1.035)" style="font-family:'Liberation Sans', sans-serif;font-size:45.8px">(GHz)</text></g>
<use href="#alp" fill="#000" transform="translate(1335.60,134.00) rotate(90) scale(1.0540,1.0211)"/>
<g transform="translate(1293.25,164.35) rotate(90)"><text x="0" y="0" style="font-family:'Liberation Sans', sans-serif;font-size:31px">eff</text></g>
<use href="#alp" fill="#000" transform="translate(1343.70,431.70) rotate(90) scale(1.0324,0.9958)"/>
<g transform="translate(1302.25,461.85) rotate(90)"><text x="0" y="0" style="font-family:'Liberation Sans', sans-serif;font-size:31px">eff</text></g>
<use href="#alp" fill="#000" transform="translate(1343.70,747.40) rotate(90) scale(1.0576,0.9958)"/>
<g transform="translate(1302.25,777.85) rotate(90)"><text x="0" y="0" style="font-family:'Liberation Sans', sans-serif;font-size:31px">eff</text></g>
<line x1="834.6" y1="112.4" x2="785" y2="122.8" stroke="#ff0000" stroke-width="3.8"/>
<polygon points="765.4,126.9 788,114.5 791.5,130" fill="#ff0000"/>
<text transform="translate(838.25,139.30) scale(1.0,1.035)" style="font-family:'Liberation Sans', sans-serif;font-size:45.8px;" fill="#ff0000">Predicted</text>
<use href="#alp" fill="#ff0000" transform="translate(1045.00,116.70) scale(0.9820,0.9536)"/>
<text x="1074.75" y="157.00" style="font-family:'Liberation Sans', sans-serif;font-size:31px;" fill="#ff0000">eff</text>
<line x1="922" y1="186.3" x2="872" y2="197.2" stroke="#000" stroke-width="3.8"/>
<polygon points="852.7,201.7 875.2,189.3 878.8,204.1" fill="#000"/>
<use href="#alp" fill="#000" transform="translate(930.40,171.90) scale(1.0000,1.0000)"/>
<text x="960.45" y="213.60" style="font-family:'Liberation Sans', sans-serif;font-size:30.5px;" fill="#000">eff</text>
</svg>
</body></html>
